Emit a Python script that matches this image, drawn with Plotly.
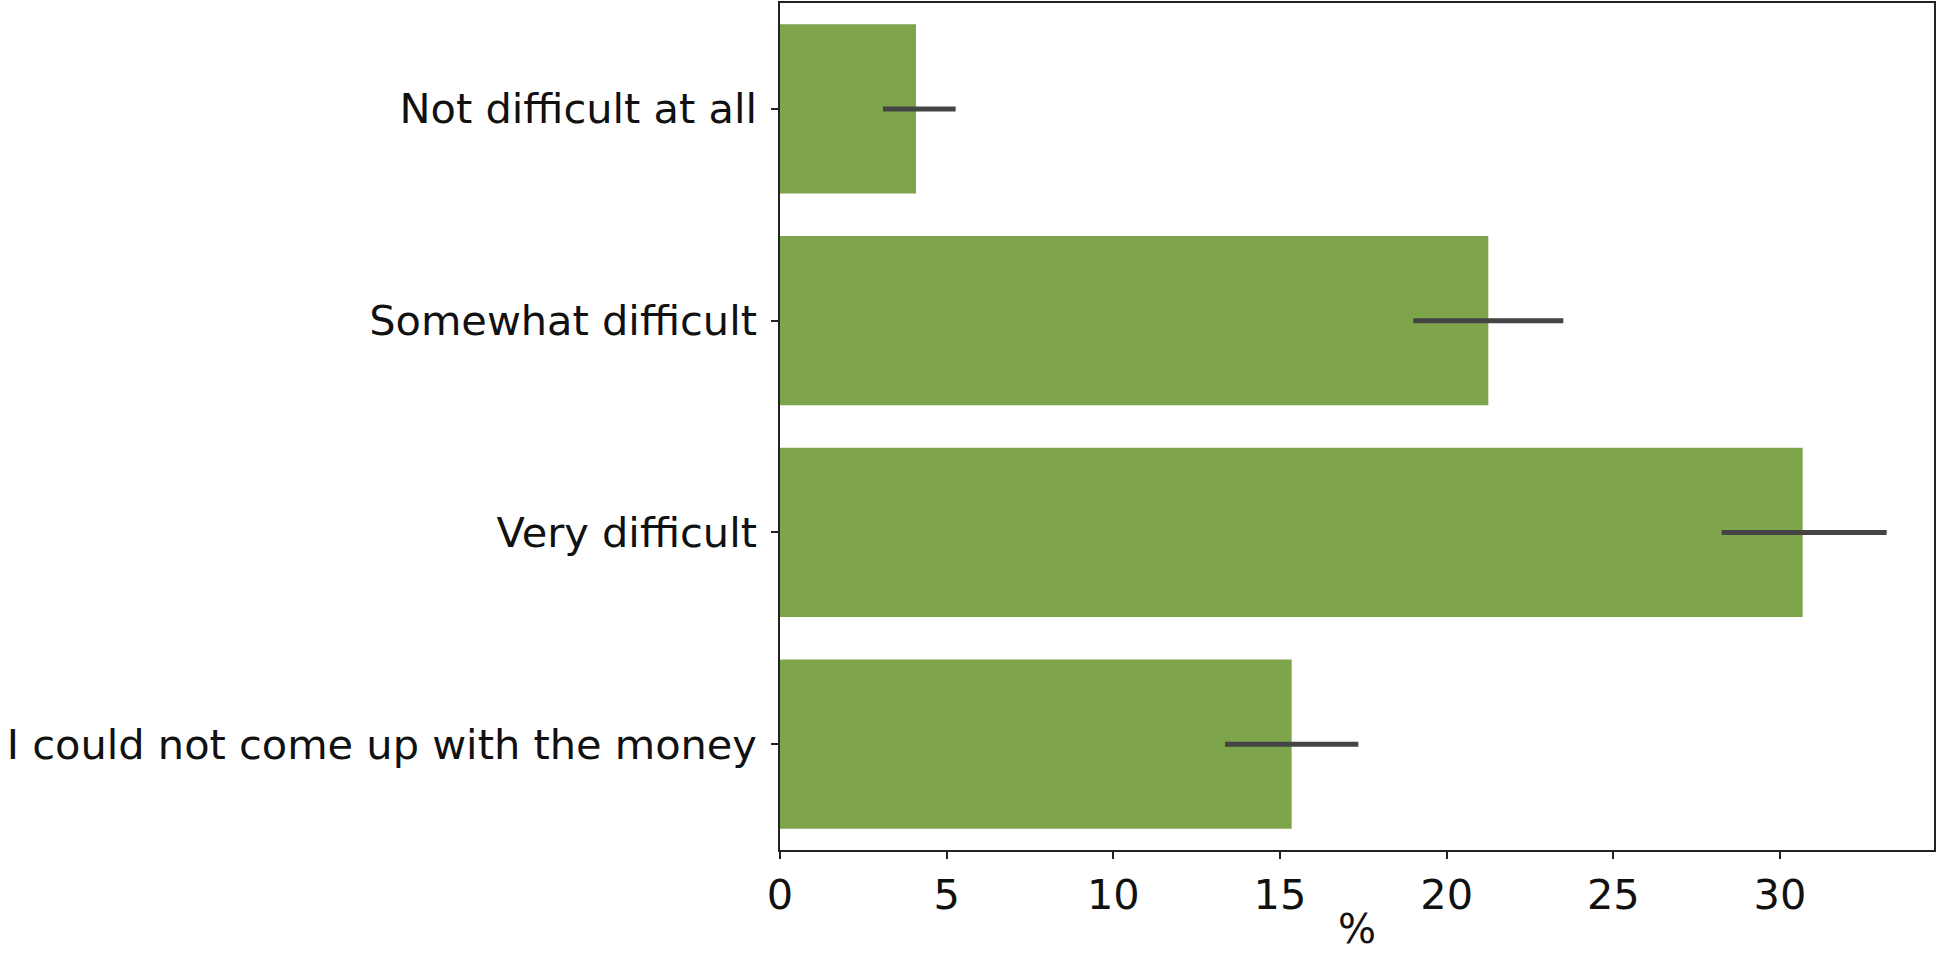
import plotly.graph_objects as go

categories = ["Not difficult at all", "Somewhat difficult", "Very difficult",
              "I could not come up with the money"]
values = [4.08, 21.25, 30.68, 15.35]
ci_low = [3.09, 19.0, 28.25, 13.35]
ci_high = [5.27, 23.5, 33.2, 17.35]

x_ticks = [0, 5, 10, 15, 20, 25, 30]
x_title = "%"

err_plus = [h - v for h, v in zip(ci_high, values)]
err_minus = [v - l for v, l in zip(values, ci_low)]

fig = go.Figure()
fig.add_trace(go.Bar(
    y=categories, x=values, orientation="h",
    width=0.8,
    marker=dict(color="#7fa54c", line=dict(width=0)),
    error_x=dict(type="data", symmetric=False, array=err_plus, arrayminus=err_minus,
                 color="#444444", thickness=5, width=0),
))

font_family = "DejaVu Sans"
fs = 41.5
fig.update_layout(
    template="none",
    width=1938, height=958,
    margin=dict(l=780, r=4, t=3, b=108, autoexpand=False),
    plot_bgcolor="white", paper_bgcolor="white",
    showlegend=False,
    bargap=0.2,
    font=dict(family=font_family, size=fs, color="#111111"),
)
fig.add_annotation(
    text=x_title, xref="paper", yref="paper", x=0.5, y=0,
    xanchor="center", yanchor="top", yshift=-55, showarrow=False,
    borderpad=0,
    font=dict(size=40, color="#111111", family=font_family),
)
fig.update_xaxes(
    range=[0, 34.62], tickvals=x_ticks, ticktext=[str(t) for t in x_ticks],
    showline=True, linecolor="#222222", linewidth=1.5, mirror=True,
    ticks="outside", ticklen=7, tickwidth=1.5, tickcolor="#222222",
    showgrid=False, zeroline=False, automargin=False,
    tickfont=dict(size=fs, color="#111111", family=font_family),
)
fig.update_yaxes(
    categoryorder="array", categoryarray=categories,
    range=[3.5, -0.5], autorange=False,
    showline=True, linecolor="#222222", linewidth=1.5, mirror=True,
    ticks="outside", ticklen=7, tickwidth=1.5, tickcolor="#222222",
    showgrid=False, zeroline=False, automargin=False,
    ticklabelstandoff=6,
    tickfont=dict(size=fs, color="#111111", family=font_family),
)

fig.write_html("out.html", config={"displayModeBar": False},
               post_script="document.body.style.margin='0';document.body.style.padding='0';")
